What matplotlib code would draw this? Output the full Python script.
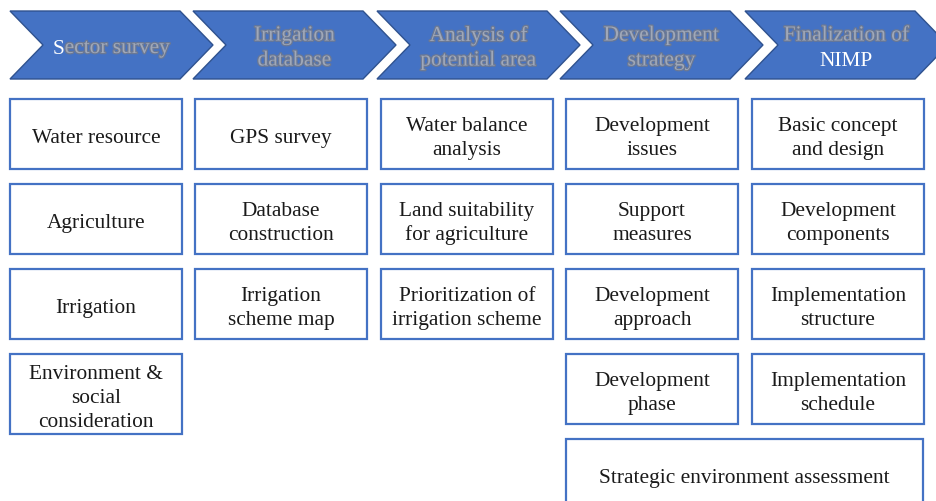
import matplotlib
matplotlib.use("Agg")
import matplotlib.pyplot as plt
from matplotlib.patches import Polygon, Rectangle
import matplotlib.patheffects as pe

# ---- content ----
header_lines = [
    ["Sector survey"],
    ["Irrigation", "database"],
    ["Analysis of", "potential area"],
    ["Development", "strategy"],
    ["Finalization of", "NIMP"],
]
col1 = ["Water resource", "Agriculture", "Irrigation", "Environment &\nsocial\nconsideration"]
col2 = ["GPS survey", "Database\nconstruction", "Irrigation\nscheme map"]
col3 = ["Water balance\nanalysis", "Land suitability\nfor agriculture", "Prioritization of\nirrigation scheme"]
col4 = ["Development\nissues", "Support\nmeasures", "Development\napproach", "Development\nphase"]
col5 = ["Basic concept\nand design", "Development\ncomponents", "Implementation\nstructure", "Implementation\nschedule"]
columns = [col1, col2, col3, col4, col5]
bottom_box = "Strategic environment assessment"

# ---- style / layout ----
W, H = 936, 502
FONT = "Liberation Serif"
FS = 15.4
BLUE = "#4472C4"
DARK = "#2F528F"
GRAY = "#A0A8B8"
TXT = "#1a1a1a"
DY = 3.5  # visual centering offset

fig = plt.figure(figsize=(W / 100, H / 100), dpi=100)
ax = fig.add_axes([0, 0, 1, 1])
ax.set_xlim(0, W)
ax.set_ylim(H, 0)
ax.axis("off")

chev_x = [10, 193, 377, 560, 745]
cw, cd, ctop, cbot = 203, 33, 12, 80
cmid = (ctop + cbot) / 2
shadow = [pe.withStroke(linewidth=1.8, foreground="#6a7894")]

for i, (x0, lines) in enumerate(zip(chev_x, header_lines)):
    pts = [(x0, ctop), (x0 + cw - cd, ctop), (x0 + cw, cmid),
           (x0 + cw - cd, cbot), (x0, cbot), (x0 + cd, cmid)]
    ax.add_patch(Polygon(pts, closed=True, facecolor=BLUE, edgecolor=DARK, lw=1.0, zorder=1))
    cx = x0 + cw / 2
    if len(lines) == 1:
        ys = [48]
    else:
        ys = [35.5, 60.5]
    for j, (ln, y) in enumerate(zip(lines, ys)):
        y = y + 1.5
        if i == 0:
            t_full = ax.text(cx, y, ln, ha="center", va="center", fontsize=FS,
                             family=FONT, color=GRAY, path_effects=shadow, zorder=3)
            fig.canvas.draw()
            bb = t_full.get_window_extent()
            t_full.remove()
            inv = ax.transData.inverted()
            xl = inv.transform((bb.x0, bb.y0))[0]
            tS = ax.text(xl, y, ln[0], ha="left", va="center", fontsize=FS,
                         family=FONT, color="white", zorder=3)
            fig.canvas.draw()
            bbS = tS.get_window_extent()
            xr = inv.transform((bbS.x1, bbS.y0))[0]
            ax.text(xr, y, ln[1:], ha="left", va="center", fontsize=FS,
                    family=FONT, color=GRAY, path_effects=shadow, zorder=3)
        elif i == 4 and j == 1:
            ax.text(cx, y, ln, ha="center", va="center", fontsize=FS,
                    family=FONT, color="white", zorder=3)
        else:
            ax.text(cx, y, ln, ha="center", va="center", fontsize=FS,
                    family=FONT, color=GRAY, path_effects=shadow, zorder=3)

box_x = [10, 195, 381, 566, 752]
bw, bh = 172, 70
row_top = [100, 185, 270, 355]

for ci, (x0, labels) in enumerate(zip(box_x, columns)):
    for ri, lab in enumerate(labels):
        y0 = row_top[ri]
        h = 80 if lab.count("\n") >= 2 else bh
        ax.add_patch(Rectangle((x0, y0), bw, h, facecolor="white", edgecolor=BLUE, lw=1.6, zorder=2))
        ax.text(x0 + bw / 2, y0 + h / 2 + DY, lab, ha="center", va="center", fontsize=FS,
                family=FONT, color=TXT, linespacing=1.33, zorder=3)

# bottom wide box
bx0, bx1, by0 = 566, 923, 440
ax.add_patch(Rectangle((bx0, by0), bx1 - bx0, 90, facecolor="white", edgecolor=BLUE, lw=1.6, zorder=2))
ax.text((bx0 + bx1) / 2, 475 + DY, bottom_box, ha="center", va="center", fontsize=FS,
        family=FONT, color=TXT, zorder=3)

fig.savefig("out.png", dpi=100)
